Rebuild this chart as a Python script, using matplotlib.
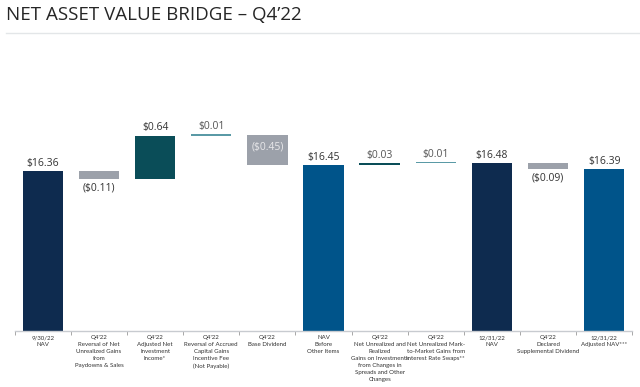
import matplotlib.pyplot as plt
from matplotlib.ticker import FixedLocator

plt.rcParams['font.family'] = ['Open Sans', 'DejaVu Sans']

labels = [
    "9/30/22\nNAV",
    "Q4'22\nReversal of Net\nUnrealized Gains\nfrom\nPaydowns & Sales",
    "Q4'22\nAdjusted Net\nInvestment\nIncome*",
    "Q4'22\nReversal of Accrued\nCapital Gains\nIncentive Fee\n(Not Payable)",
    "Q4'22\nBase Dividend",
    "NAV\nBefore\nOther Items",
    "Q4'22\nNet Unrealized and\nRealized\nGains on Investments\nfrom Changes in\nSpreads and Other\nChanges",
    "Q4'22\nNet Unrealized Mark-\nto-Market Gains from\nInterest Rate Swaps**",
    "12/31/22\nNAV",
    "Q4'22\nDeclared\nSupplemental Dividend",
    "12/31/22\nAdjusted NAV***",
]
values = [16.36, -0.11, 0.64, 0.01, -0.45, 16.45, 0.03, 0.01, 16.48, -0.09, 16.39]
is_total = [True, False, False, False, False, True, False, False, True, False, True]

navy = "#0e2b4f"
blue = "#00548a"
teal = "#0a4d58"
light_teal = "#5a9aa6"
grey = "#9ca1aa"
colors = [navy, grey, teal, light_teal, grey, blue, teal, light_teal, navy, grey, blue]

base_val = 14.0

fig = plt.figure(figsize=(6.4, 3.87), dpi=100)
ax = fig.add_axes([0.023, 0.145, 0.965, 0.515])

running = 0
for i, v in enumerate(values):
    if is_total[i]:
        bottom, top = base_val, v
        running = v
    else:
        bottom = running
        top = running + v
        running = top
    lo, hi = min(bottom, top), max(bottom, top)
    h = max(hi - lo, 0.025)
    ax.bar(i, h, bottom=lo, width=0.72, color=colors[i])

    if is_total[i]:
        txt = f"${v:.2f}"
    elif v < 0:
        txt = f"(${abs(v):.2f})"
    else:
        txt = f"${v:.2f}"

    if i == 4:
        ax.text(i, (lo + hi) / 2 + 0.05, txt, ha='center', va='center',
                fontsize=7.5, color='#e8e8ea')
    elif v < 0:
        ax.text(i, lo - 0.05, txt, ha='center', va='top', fontsize=7.5, color='#333333')
    else:
        ax.text(i, hi + 0.04, txt, ha='center', va='bottom', fontsize=7.5,
                color='#333333' if is_total[i] or i == 2 else '#555555')

ax.set_ylim(base_val, 16.95)
ax.set_xlim(-0.5, len(values) - 0.5)
ax.set_yticks([])
for s in ['top', 'right', 'left']:
    ax.spines[s].set_visible(False)
ax.spines['bottom'].set_color('#c8cbd0')
ax.spines['bottom'].set_linewidth(1.0)

ax.set_xticks(range(len(values)))
ax.set_xticklabels(labels, fontsize=4.4, color='#333333', linespacing=1.5,
                   family=['Lato', 'DejaVu Sans'])
ax.tick_params(axis='x', which='major', length=0, pad=3)
ax.xaxis.set_minor_locator(FixedLocator([i - 0.5 for i in range(len(values) + 1)]))
ax.tick_params(axis='x', which='minor', length=3, color='#999999', width=0.6)

fig.text(0.01, 0.962, "NET ASSET VALUE BRIDGE \u2013 Q4\u201922", fontsize=13.5,
         color='#262626', ha='left', va='center')
fig.add_artist(plt.Line2D([0.01, 1.0], [0.915, 0.915], color='#e3e6e8', lw=1))

fig.savefig("out.png", dpi=100)
